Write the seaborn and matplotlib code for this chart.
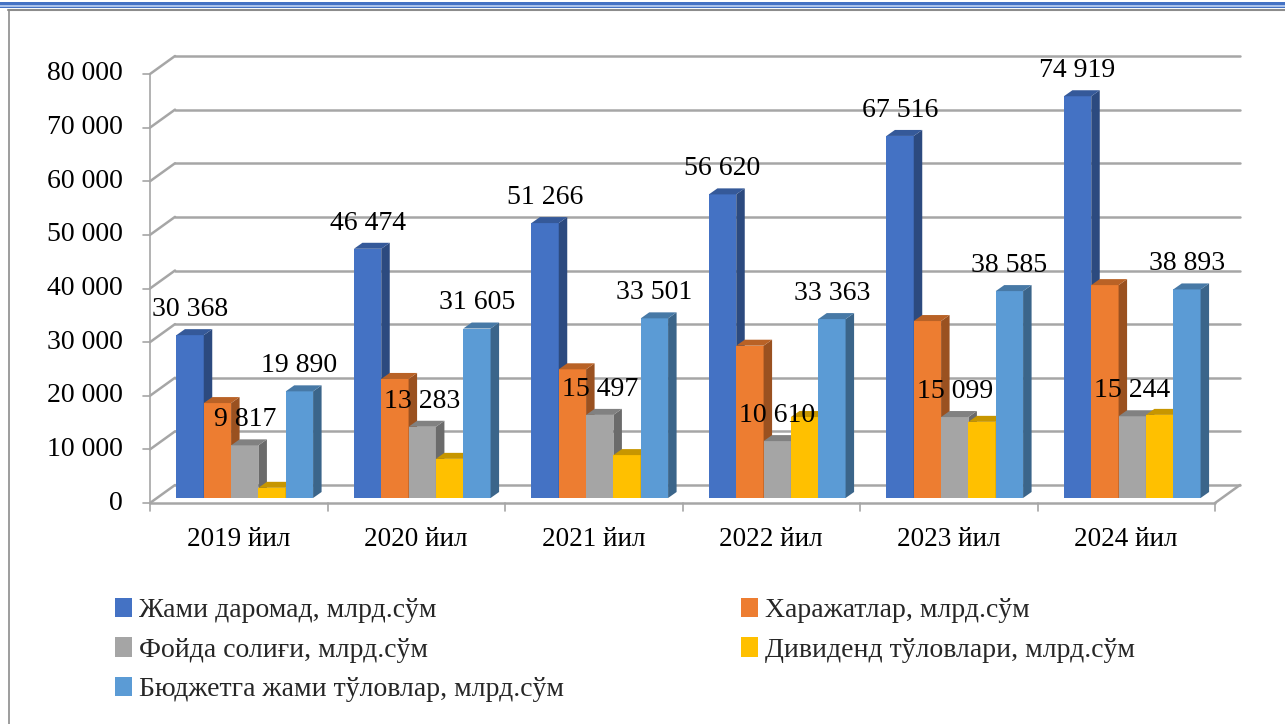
import numpy as np
import pandas as pd
import matplotlib
matplotlib.use("Agg")
import matplotlib.pyplot as plt
import matplotlib.transforms as mtransforms
from matplotlib.patches import Polygon, Rectangle, Patch
from matplotlib.lines import Line2D
from matplotlib.colors import to_rgb
import seaborn as sns

# data
years = ["2019 йил", "2020 йил", "2021 йил", "2022 йил", "2023 йил", "2024 йил"]
series = [
    "Жами даромад, млрд.сўм",
    "Харажатлар, млрд.сўм",
    "Фойда солиғи, млрд.сўм",
    "Дивиденд тўловлари, млрд.сўм",
    "Бюджетга жами тўловлар, млрд.сўм",
]
total_income = [30368, 46474, 51266, 56620, 67516, 74919]
expenses = [17700, 22200, 24000, 28400, 33000, 39700]
profit_tax = [9817, 13283, 15497, 10610, 15099, 15244]
dividends = [1900, 7300, 8000, 15100, 14200, 15500]
budget_total = [19890, 31605, 33501, 33363, 38585, 38893]
colors = ["#4472C4", "#ED7D31", "#A5A5A5", "#FFC000", "#5B9BD5"]
show_labels = [True, False, True, False, True]
y_ticks = [0, 10000, 20000, 30000, 40000, 50000, 60000, 70000, 80000]

df = pd.DataFrame({
    "year": years * 5,
    "series": np.repeat(series, len(years)),
    "value": total_income + expenses + profit_tax + dividends + budget_total,
})

sns.set_theme(style="white")
plt.rcParams["font.family"] = ["Liberation Serif", "DejaVu Serif"]

W, H = 1285, 724
fig = plt.figure(figsize=(W / 100, H / 100), dpi=100)
fig.patch.set_facecolor("white")

# bar plane (pixels from top-left): x 156..1221, y 498 (0) .. 69 (80 000)
ax = fig.add_axes([156 / W, (H - 498) / H, 1065 / W, 429 / H])
sns.barplot(data=df, x="year", y="value", hue="series", hue_order=series,
            palette=colors, width=0.77, saturation=1, errorbar=None,
            legend=False, linewidth=0, ax=ax)
ax.set_xlim(-0.5, 5.5)
ax.set_ylim(0, 80000)
ax.axis("off")

ident = mtransforms.IdentityTransform()


def shade(c, f):
    r, g, b = to_rgb(c)
    return (r * f, g * f, b * f)


# 3D faces of the bars
DX, DY = 8.5, 6
for k, cont in enumerate(ax.containers):
    for bar in cont:
        x0 = bar.get_x()
        x1 = x0 + bar.get_width()
        h = bar.get_height()
        (px0, py0) = ax.transData.transform((x0, 0))
        (px1, py1) = ax.transData.transform((x1, h))
        bar.set_zorder(3 + k)
        side = Polygon([(px1, py0), (px1 + DX, py0 + DY), (px1 + DX, py1 + DY), (px1, py1)],
                       closed=True, facecolor=shade(colors[k], 0.65), edgecolor="none",
                       transform=ident, zorder=3.5 + k, clip_on=False)
        top = Polygon([(px0, py1), (px0 + DX, py1 + DY), (px1 + DX, py1 + DY), (px1, py1)],
                      closed=True, facecolor=shade(colors[k], 0.78), edgecolor="none",
                      transform=ident, zorder=3.5 + k, clip_on=False)
        ax.add_patch(side)
        ax.add_patch(top)
        if show_labels[k]:
            ax.annotate(f"{int(h):,}".replace(",", " "), ((x0 + x1) / 2, h),
                        xytext=(0, 18.5), textcoords="offset points",
                        ha="center", va="center", fontsize=20, color="black",
                        zorder=20, annotation_clip=False)

# walls / floor
FRONT = (-6, -5)
BACK = (19, 13)
grid_c = "#A6A6A6"


def P(x, v, off):
    px, py = ax.transData.transform((x, v))
    return px + off[0], py + off[1]


def seg(a, b, lw=1.8, z=1):
    ax.add_line(Line2D([a[0], b[0]], [a[1], b[1]], color=grid_c, lw=lw,
                       transform=ident, zorder=z, clip_on=False))


for v in y_ticks:
    seg(P(-0.5, v, BACK), P(5.5, v, BACK))
    seg(P(-0.5, v, FRONT), P(-0.5, v, BACK))
    a = P(-0.5, v, FRONT)
    seg(a, (a[0] - 7, a[1]), lw=1.2)
    lab = f"{v:,}".replace(",", " ")
    ax.text(a[0] - 27, a[1], lab, transform=ident, ha="right", va="center",
            fontsize=20, color="black")

seg(P(-0.5, 0, FRONT), P(-0.5, 80000, FRONT), lw=1.2)
seg(P(-0.5, 0, FRONT), P(5.5, 0, FRONT), z=30)
seg(P(5.5, 0, FRONT), P(5.5, 0, BACK))
for i in range(len(years) + 1):
    a = P(i - 0.5, 0, FRONT)
    seg(a, (a[0], a[1] - 8), lw=1.2)
for i, yr in enumerate(years):
    a = P(i, 0, FRONT)
    ax.text(a[0], a[1] - 36, yr, transform=ident, ha="center", va="center",
            fontsize=19.5, color="black")

# legend: two columns placed separately
handles = [Patch(facecolor=c, edgecolor="none") for c in colors]
leg_kw = dict(frameon=False, fontsize=20, handlelength=0.6, handleheight=0.7,
              handletextpad=0.25, labelspacing=0.5, borderpad=0, borderaxespad=0,
              loc="upper left")
fig.legend([handles[0], handles[2], handles[4]], [series[0], series[2], series[4]],
           bbox_to_anchor=(115 / W, 1 - 598 / H), **leg_kw)
fig.legend([handles[1], handles[3]], [series[1], series[3]],
           bbox_to_anchor=(741 / W, 1 - 598 / H), **leg_kw)

# slide frame: blue stripes on top, grey border lines
fig.add_artist(Rectangle((0, 1 - 5.2 / H), 1, 3.5 / H, transform=fig.transFigure,
                         facecolor="#4472C4", edgecolor="none"))
fig.add_artist(Rectangle((0, 1 - 7 / H), 1, 1.8 / H, transform=fig.transFigure,
                         facecolor="#A9C1EA", edgecolor="none"))
fig.add_artist(Rectangle((0, 1 - 8.4 / H), 1, 1.4 / H, transform=fig.transFigure,
                         facecolor="#4472C4", edgecolor="none"))
fig.add_artist(Line2D([8 / W, 1], [1 - 10 / H, 1 - 10 / H], transform=fig.transFigure,
                      color="#8C8C8C", lw=1.5))
fig.add_artist(Line2D([8.5 / W, 8.5 / W], [0, 1 - 10 / H], transform=fig.transFigure,
                      color="#8C8C8C", lw=1.2))

fig.savefig("out.png", dpi=100, facecolor="white")
plt.close(fig)
